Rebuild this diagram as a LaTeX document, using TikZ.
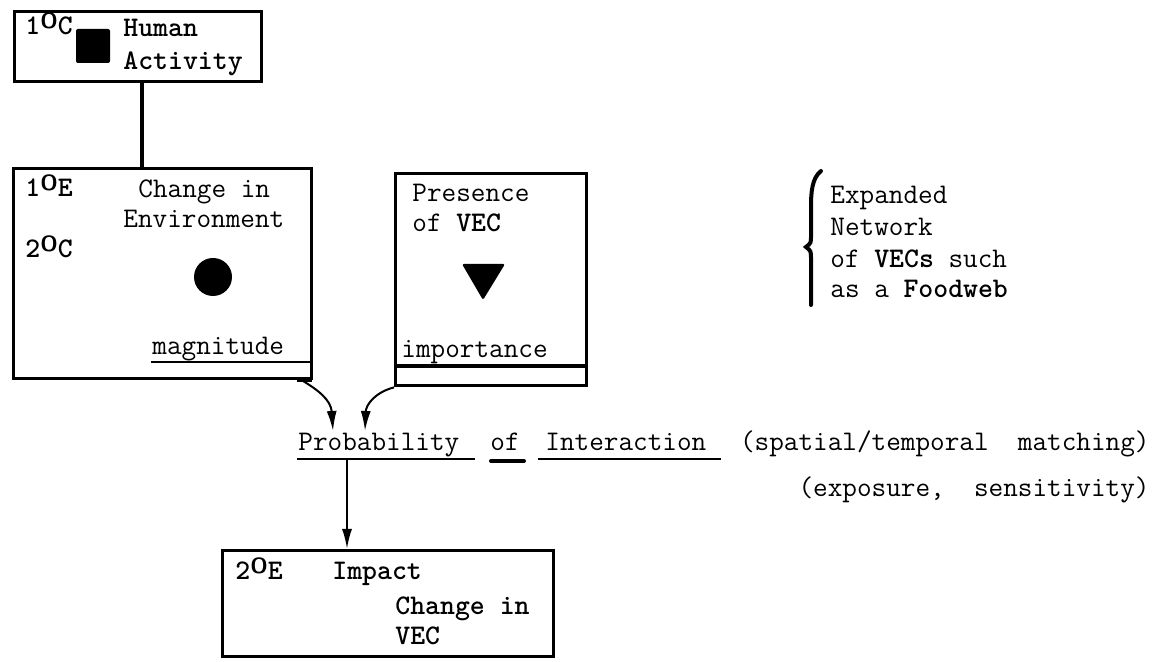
\documentclass[tikz,border=0pt]{standalone}
\usetikzlibrary{arrows.meta}
% raised letter O used for the order marks (1st / 2nd)
\newcommand{\ordO}{\raisebox{0.55ex}{\fontsize{11}{11}\selectfont\sffamily O}}
\begin{document}
\begin{tikzpicture}[x=0.5pt,y=-0.5pt,
  frame/.style={draw, line width=1.7pt, rectangle, inner sep=0pt, anchor=north west},
  txt/.style={inner sep=0pt, anchor=base west, font=\fontsize{14.2}{17}\selectfont\ttfamily},
  btxt/.style={inner sep=0pt, anchor=base west, font=\fontsize{14.2}{17}\selectfont\ttfamily\bfseries},
  rtxt/.style={inner sep=0pt, anchor=base east, font=\fontsize{14.2}{17}\selectfont\ttfamily},
  link/.style={line width=1.6pt},
  arr/.style={line width=1pt, -{Latex[length=10pt,width=5pt]}},
  uline/.style={line width=1.2pt}]
\useasboundingbox (0,0) rectangle (1163,662);

% ---- boxes
\node[frame, minimum width=123.5pt, minimum height=35pt] (act) at (13,10) {};
\node[frame, minimum width=149pt, minimum height=105pt] (env) at (12,167) {};
\node[frame, minimum width=95.5pt, minimum height=106pt] (vec) at (394,172) {};
\node[frame, minimum width=165.5pt, minimum height=53pt] (imp) at (221,549) {};

% ---- Human Activity
\node[btxt] (c1) at (25,35) {1\ordO C};
\fill[rounded corners=1pt] (76,29) rectangle (110,63);
\node[btxt] (ha1) at (123,37) {Human};
\node[btxt] (ha2) at (123,70) {Activity};

% ---- link to environment box
\coordinate (sx) at (142,0);
\draw[link] (act.south -| sx) -- (env.north -| sx);

% ---- Change in Environment
\node[btxt] (e1) at (25,197) {1\ordO E};
\node[btxt] (c2) at (25,258) {2\ordO C};
\node[txt] (ce1) at (138,198) {Change in};
\node[txt] (ce2) at (123,228) {Environment};
\fill (213,277) circle (9.5pt);
\node[txt] (mag) at (152,355) {magnitude};
\draw[line width=1pt] (151,362) -- (312,362);
\fill (297,377) rectangle (312,382);

% ---- Presence of VEC
\node[txt] (pv1) at (412,202) {Presence};
\node[txt] (pv2) at (412,232) {of \textbf{VEC}};
\fill[rounded corners=1pt] (462,264) -- (505,264) -- (483,300) -- cycle;
\node[txt] (impo) at (401,358) {importance};
\draw[line width=1.6pt] (vec.west |- 0,366) -- (vec.east |- 0,366);

% ---- expanded network note
\draw[line width=2pt, line cap=round]
  (821,171) .. controls (812,178) and (811,192) .. (811,207)
  -- (811,236) .. controls (811,243) .. (806,247)
  .. controls (811,251) .. (811,259) -- (811,305);
\node[txt] (n1) at (830,204) {Expanded};
\node[txt] (n2) at (830,236) {Network};
\node[txt] (n3) at (830,268) {of \textbf{VECs} such};
\node[txt] (n4) at (830,298) {as a \textbf{Foodweb}};

% ---- probability of interaction
\node[txt] (prob) at (298,451) {Probability};
\node[txt] (of) at (490,451) {of};
\node[txt] (inter) at (545,451) {Interaction};
\node[rtxt] (sp) at (1150,451) {(spatial/temporal\ \ matching)};
\node[rtxt] (ex) at (1150,497) {(exposure,\ \ sensitivity)};
\draw[uline] (297,459) -- (475,459);
\draw[line width=2pt, line cap=round] (491,461) -- (524,461);
\draw[uline] (538,459) -- (721,459);

\coordinate (pin1) at (333,431);
\coordinate (pin2) at (365,431);
\draw[arr] (303,381) .. controls (318,390) and (331,400) .. (pin1);
\draw[arr] (vec.south west) .. controls (376,392) and (366,404) .. (pin2);

% ---- impact box
\coordinate (dn) at (347,459);
\draw[arr] (dn) -- (imp.north -| dn);
\node[btxt] (e2) at (235,580) {2\ordO E};
\node[btxt] (im1) at (332,580) {Impact};
\node[btxt] (im2) at (395,615) {Change in};
\node[btxt] (im3) at (395,645) {VEC};
\end{tikzpicture}
\end{document}
